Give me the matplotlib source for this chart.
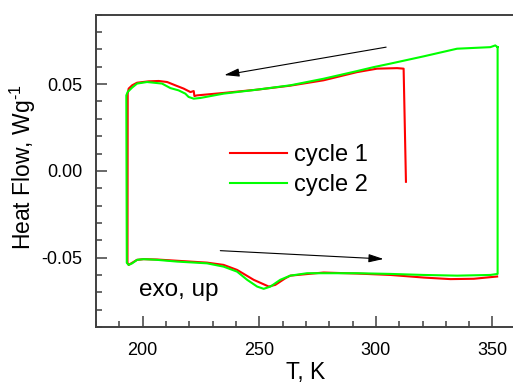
import matplotlib
matplotlib.use("Agg")
import matplotlib.pyplot as plt
from matplotlib.ticker import MultipleLocator

plt.rcParams['font.family'] = ['Liberation Sans', 'DejaVu Sans']
plt.rcParams['mathtext.fontset'] = 'custom'
plt.rcParams['mathtext.rm'] = 'Liberation Sans'

# cycle 1 (red): start at 312 K, cooling branch, then heating branch
c1_T = [312.9, 311.9, 309.1, 300.5, 291.9, 277.6, 263.3, 249.1, 234.7, 223.3, 222.2,
        221.9, 220.5, 217.6, 214.0, 210.5, 206.9, 202.6, 197.6, 195.5, 194.0, 193.6,
        193.5, 194.0, 197.6, 200.4, 206.2, 220.5, 227.6, 234.7, 240.5, 247.6, 254.1,
        256.9, 261.2, 263.3, 277.6, 291.9, 306.2, 320.5, 332.0, 342.0, 352.0]
c1_HF = [-0.0063, 0.0589, 0.0592, 0.0589, 0.0569, 0.0522, 0.0491, 0.0468, 0.0449, 0.0435, 0.0431,
         0.0460, 0.0454, 0.0474, 0.0493, 0.0512, 0.0518, 0.0516, 0.0508, 0.0493, 0.0474, 0.0445,
         -0.0530, -0.0542, -0.0513, -0.0509, -0.0511, -0.0523, -0.0529, -0.0542, -0.0571, -0.0628, -0.0667,
         -0.0657, -0.0619, -0.0604, -0.0586, -0.0592, -0.0600, -0.0615, -0.0624, -0.0622, -0.0609]

# cycle 2 (green)
c2_T = [352.2, 351.2, 349.1, 334.8, 320.5, 306.2, 299.1, 291.9, 277.6, 263.3, 249.1, 234.7,
        224.7, 221.9, 219.7, 218.3, 215.4, 211.9, 208.3, 206.2, 201.9, 197.6, 195.5, 193.6,
        193.0, 193.2, 194.0, 195.5, 197.6, 200.4, 206.2, 214.8, 227.6, 234.7, 240.5, 244.8,
        249.1, 251.9, 254.8, 259.0, 263.3, 270.5, 277.6, 291.9, 306.2, 320.5, 334.8, 349.1,
        352.2, 352.2]
c2_HF = [0.0713, 0.0723, 0.0713, 0.0704, 0.0660, 0.0618, 0.0598, 0.0575, 0.0531, 0.0493, 0.0468, 0.0445,
         0.0420, 0.0416, 0.0426, 0.0445, 0.0464, 0.0477, 0.0503, 0.0506, 0.0512, 0.0503, 0.0480, 0.0455,
         0.0435, -0.0530, -0.0542, -0.0533, -0.0513, -0.0509, -0.0513, -0.0523, -0.0533, -0.0552, -0.0581, -0.0628,
         -0.0667, -0.0680, -0.0667, -0.0628, -0.0604, -0.0590, -0.0590, -0.0590, -0.0594, -0.0600, -0.0604, -0.0600,
         -0.0594, 0.0713]

labels = ["cycle 1", "cycle 2"]

fig = plt.figure(figsize=(5.13, 3.83), dpi=100)
ax = fig.add_axes([96/513, 1-327/383, 419.8/513, (327-14.7)/383])

ax.plot(c1_T, c1_HF, color='#ff0000', lw=1.5, label=labels[0])
ax.plot(c2_T, c2_HF, color='#00ff00', lw=1.5, label=labels[1])

ax.set_xlim(180, 360)
ax.set_ylim(-0.09, 0.09)
ax.xaxis.set_major_locator(MultipleLocator(50))
ax.xaxis.set_minor_locator(MultipleLocator(10))
ax.yaxis.set_major_locator(MultipleLocator(0.05))
ax.yaxis.set_minor_locator(MultipleLocator(0.01))
ax.yaxis.set_major_formatter(plt.FuncFormatter(lambda v, p: f"{v:.2f}"))

axc = '#404040'
for s in ax.spines.values():
    s.set_color(axc)
    s.set_linewidth(1.4)
ax.tick_params(which='major', direction='in', length=8, width=1.1, color=axc,
               labelsize=13, top=False, right=False)
ax.tick_params(which='minor', direction='in', length=4.3, width=1.1, color=axc,
               top=False, right=False)
ax.tick_params(axis='x', which='major', pad=11)
ax.tick_params(axis='y', which='major', pad=10)

fig.text(23/513, 1-167.5/383, r"Heat Flow, Wg$^{\text{-}1}$", rotation=90, ha='center', va='center', fontsize=16.5)
fig.text(305.3/513, 1-379/383, "T, K", ha='center', va='baseline', fontsize=16.5)

ax.annotate("", xy=(235.0, 0.0552), xytext=(304.4, 0.0713),
            arrowprops=dict(arrowstyle='-|>,head_length=0.9,head_width=0.25', color='black', lw=0.8,
                            shrinkA=0, shrinkB=0))
ax.annotate("", xy=(303.3, -0.0508), xytext=(233.3, -0.0460),
            arrowprops=dict(arrowstyle='-|>,head_length=0.9,head_width=0.25', color='black', lw=0.8,
                            shrinkA=0, shrinkB=0))

ax.text(198.4, -0.0724, "exo, up", fontsize=17.5, ha='left', va='baseline')

leg = ax.legend(loc='upper left', bbox_to_anchor=(230/513, 1-144/383), bbox_transform=fig.transFigure,
                frameon=False, fontsize=17, handlelength=2.4, handletextpad=0.3,
                labelspacing=0.33, borderpad=0, borderaxespad=0)

fig.savefig("out.png", dpi=100)
